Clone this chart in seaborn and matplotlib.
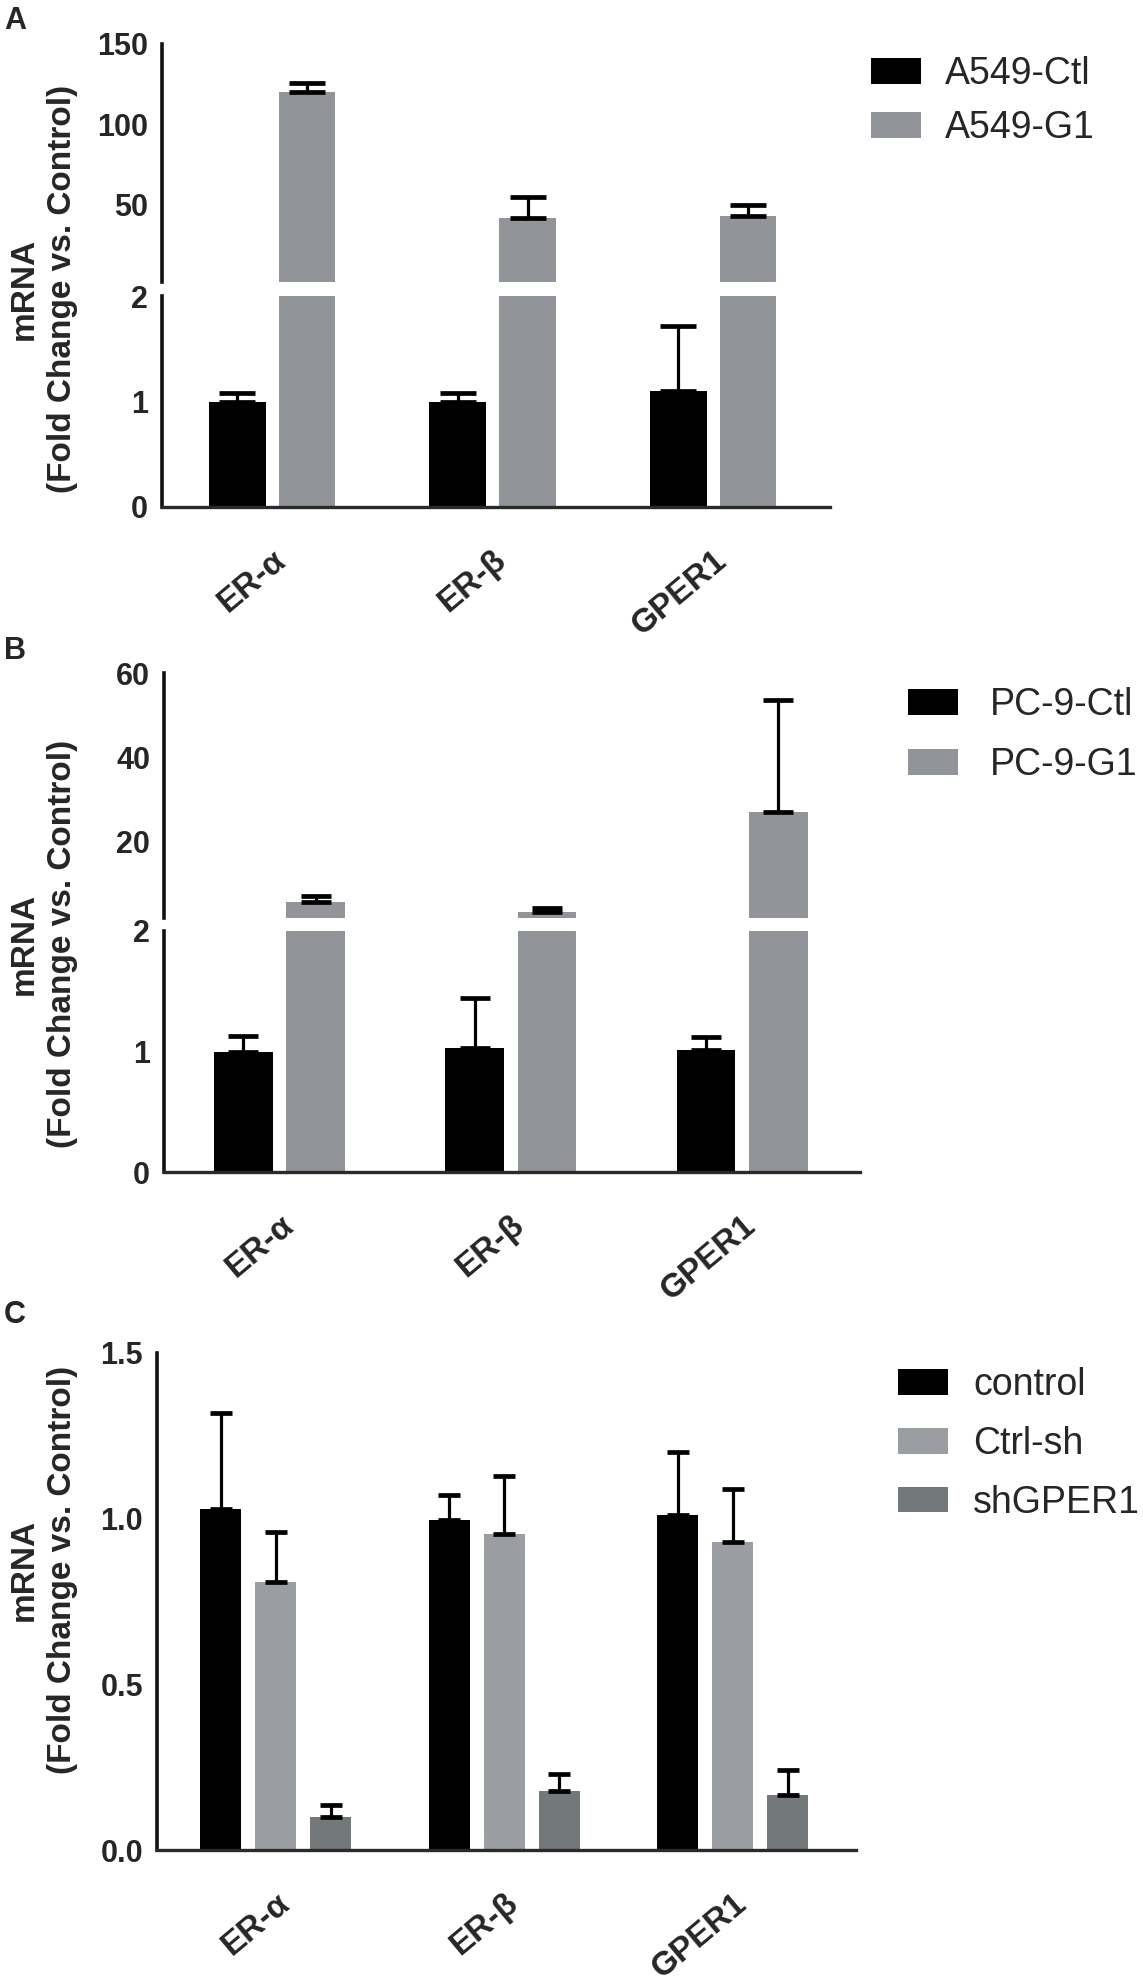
import numpy as np
import pandas as pd
import matplotlib
matplotlib.use("Agg")
import matplotlib.pyplot as plt
import seaborn as sns
from matplotlib.patches import Patch

# ---------------- data ----------------
genes = ["ER-α", "ER-β", "GPER1"]

a_groups = ["A549-Ctl", "A549-G1"]
a_ctl = [1.00, 1.00, 1.10]
a_ctl_err = [0.08, 0.08, 0.62]
a_g1 = [120.0, 42.0, 43.0]
a_g1_err = [6.0, 13.0, 7.0]

b_groups = ["PC-9-Ctl", "PC-9-G1"]
b_ctl = [1.00, 1.03, 1.01]
b_ctl_err = [0.13, 0.41, 0.11]
b_g1 = [5.8, 3.5, 27.0]
b_g1_err = [1.4, 0.9, 26.5]

c_groups = ["control", "Ctrl-sh", "shGPER1"]
c_control = [1.03, 0.995, 1.01]
c_control_err = [0.29, 0.075, 0.19]
c_ctrlsh = [0.81, 0.955, 0.93]
c_ctrlsh_err = [0.15, 0.175, 0.16]
c_sh = [0.10, 0.178, 0.166]
c_sh_err = [0.036, 0.052, 0.074]

a_ticks_up = [50, 100, 150]
b_ticks_up = [20, 40, 60]
low_ticks = [0, 1, 2]
c_ticks = [0.0, 0.5, 1.0, 1.5]
c_ticklabels = ["0.0", "0.5", "1.0", "1.5"]

ylabel_text = "mRNA\n(Fold Change vs. Control)"

BLACK = "#000000"
GRAY = "#919499"
LGRAY = "#9a9da1"
DGRAY = "#73787b"
AXC = "#111111"

# ---------------- style ----------------
sns.set_theme(style="white")
plt.rcParams["font.family"] = ["Liberation Sans", "DejaVu Sans"]
plt.rcParams["font.weight"] = "bold"

W, H = 1143, 1987
fig = plt.figure(figsize=(W / 100, H / 100), dpi=100)

XROT = 40
XLAB_SIZE = 24
YTICK_SIZE = 22


def box(left, right, top, bottom):
    return [left / W, 1 - bottom / H, (right - left) / W, (bottom - top) / H]


def draw_bars(ax, groups, means, errs, colors, width, gap, capsize, lo, hi):
    rows = []
    for g, m in zip(groups, means):
        for gene, v in zip(genes, m):
            rows.append({"gene": gene, "group": g, "value": v})
    df = pd.DataFrame(rows)
    sns.barplot(data=df, x="gene", y="value", hue="group", order=genes,
                hue_order=groups, palette=dict(zip(groups, colors)),
                width=width, gap=gap, errorbar=None, legend=False,
                saturation=1, linewidth=0, ax=ax)
    conts = list(ax.containers)
    for cont, m, e in zip(conts, means, errs):
        xs, ys, es = [], [], []
        for b, v, ev in zip(cont, m, e):
            if lo <= v < hi:
                xs.append(b.get_x() + b.get_width() / 2)
                ys.append(v)
                es.append(ev)
        if xs:
            ax.errorbar(xs, ys, yerr=[np.zeros(len(es)), es], fmt="none",
                        ecolor="black", elinewidth=2.3, capsize=capsize,
                        capthick=3.4, zorder=4)
    ax.set_xlabel("")
    ax.set_ylabel("")


def style_left(ax):
    for s in ["top", "right"]:
        ax.spines[s].set_visible(False)
    ax.spines["left"].set_linewidth(2.6)
    ax.spines["left"].set_color(AXC)
    ax.spines["bottom"].set_linewidth(2.4)
    ax.spines["bottom"].set_color("#2a2a2a")
    ax.tick_params(axis="y", which="major", direction="out", length=7,
                   width=2.2, color=AXC, labelsize=YTICK_SIZE, pad=3)
    ax.set_facecolor("white")


def style_xlabels(ax):
    ax.set_xticks(range(len(genes)))
    ax.set_xticklabels(genes, rotation=XROT, ha="right", va="top",
                       rotation_mode="anchor", fontsize=XLAB_SIZE,
                       fontweight="bold")
    ax.tick_params(axis="x", direction="out", length=9, width=2.0,
                   color="#2a2a2a", pad=18)


def style_upper(ax, ticks, xlim):
    style_left(ax)
    ax.spines["bottom"].set_visible(False)
    ax.set_xticks([])
    ax.set_xlim(*xlim)
    ax.set_yticks(ticks)
    ax.set_yticklabels([str(t) for t in ticks], fontweight="bold")
    ax.set_yticks([2], minor=True)
    ax.tick_params(axis="y", which="minor", direction="inout", length=14,
                   width=2.2, color=AXC)


def style_lower(ax, xlim):
    style_left(ax)
    ax.set_xlim(*xlim)
    ax.set_ylim(0, 2)
    ax.set_yticks(low_ticks)
    ax.set_yticklabels([str(t) for t in low_ticks], fontweight="bold")
    ax.set_yticks([2], minor=True)
    ax.tick_params(axis="y", which="minor", direction="in", length=7,
                   width=2.2, color=AXC)
    style_xlabels(ax)


# ---------------- panel A ----------------
a_means = [a_ctl, a_g1]
a_errs = [a_ctl_err, a_g1_err]
a_cols = [BLACK, GRAY]
axA_up = fig.add_axes(box(162, 830, 44, 282))
axA_lo = fig.add_axes(box(162, 830, 296, 507))
xlimA = (-0.5, 2.53)
draw_bars(axA_up, a_groups, a_means, a_errs, a_cols, 0.634, 0.19, 13, 2, 1e9)
draw_bars(axA_lo, a_groups, a_means, a_errs, a_cols, 0.634, 0.19, 13, 0, 2)
axA_up.set_ylim(2, 150)
style_upper(axA_up, a_ticks_up, xlimA)
style_lower(axA_lo, xlimA)

# ---------------- panel B ----------------
b_means = [b_ctl, b_g1]
b_errs = [b_ctl_err, b_g1_err]
b_cols = [BLACK, GRAY]
axB_up = fig.add_axes(box(164, 860, 673, 918))
axB_lo = fig.add_axes(box(164, 860, 931, 1172))
xlimB = (-0.5, 2.51)
draw_bars(axB_up, b_groups, b_means, b_errs, b_cols, 0.626, 0.19, 11, 2, 1e9)
draw_bars(axB_lo, b_groups, b_means, b_errs, b_cols, 0.626, 0.19, 11, 0, 2)
axB_up.set_ylim(2, 60)
style_upper(axB_up, b_ticks_up, xlimB)
style_lower(axB_lo, xlimB)

# ---------------- panel C ----------------
c_means = [c_control, c_ctrlsh, c_sh]
c_errs = [c_control_err, c_ctrlsh_err, c_sh_err]
c_cols = [BLACK, LGRAY, DGRAY]
axC = fig.add_axes(box(157, 856, 1353, 1850))
draw_bars(axC, c_groups, c_means, c_errs, c_cols, 0.722, 0.25, 8, 0, 1e9)
style_left(axC)
axC.set_xlim(-0.52, 2.54)
axC.set_ylim(0, 1.5)
axC.set_yticks(c_ticks)
axC.set_yticklabels(c_ticklabels, fontweight="bold")
style_xlabels(axC)

# ---------------- labels ----------------
for ycen in (289, 944, 1570):
    fig.text(43 / W, 1 - ycen / H, ylabel_text, rotation=90, ha="center",
             va="center", multialignment="center", fontsize=24,
             fontweight="bold", linespacing=1.3)

for lab, ytop in (("A", 6), ("B", 636), ("C", 1300)):
    fig.text(4 / W, 1 - ytop / H, lab, fontsize=22, fontweight="bold",
             va="top", ha="left")

# ---------------- legends ----------------
def add_legend(groups, colors, left, top, spacing, textpad):
    handles = [Patch(facecolor=c, edgecolor="none") for c in colors]
    fig.legend(handles, groups, loc="upper left",
               bbox_to_anchor=(left / W, 1 - top / H), frameon=False,
               borderpad=0, borderaxespad=0, handlelength=1.33,
               handleheight=0.68, handletextpad=textpad,
               labelspacing=spacing,
               prop={"family": ["Liberation Sans", "DejaVu Sans"],
                     "weight": "normal", "size": 27})


add_legend(a_groups, a_cols, 871, 56, 0.48, 0.64)
add_legend(b_groups, b_cols, 908, 687, 0.64, 0.85)
add_legend(c_groups, c_cols, 898, 1367, 0.61, 0.68)

fig.savefig("out.png", dpi=100, facecolor="white")
